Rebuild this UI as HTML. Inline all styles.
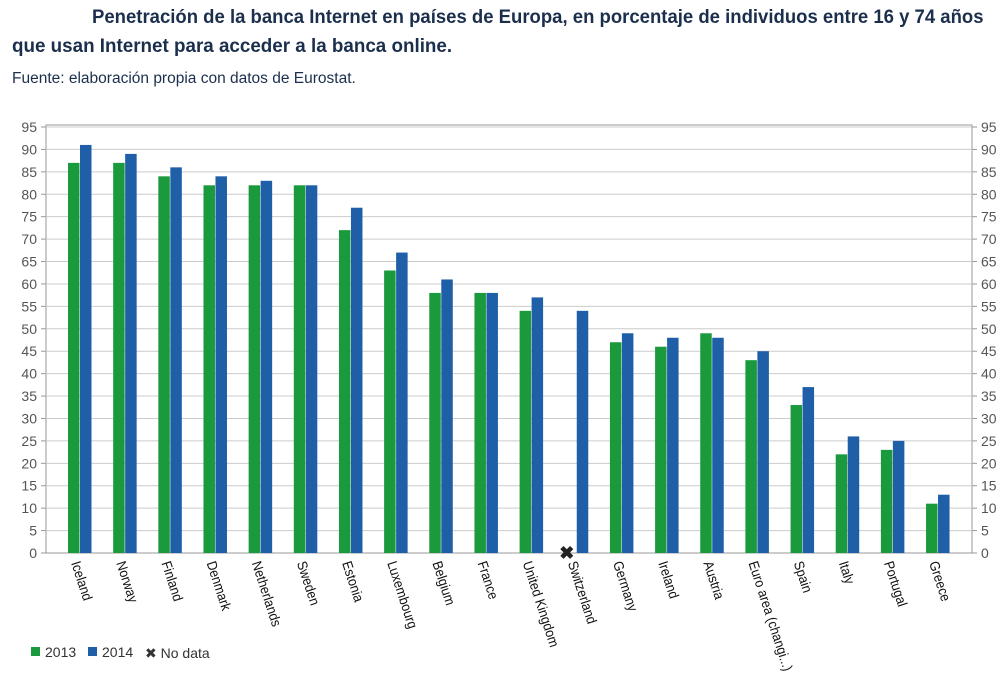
<!DOCTYPE html>
<html><head><meta charset="utf-8"><style>
body{margin:0;width:1008px;height:692px;background:#fff;overflow:hidden;font-family:"Liberation Sans",sans-serif;}
.t{position:absolute;color:#1b2f4d;font-weight:bold;font-size:19px;white-space:nowrap;transform-origin:0 0;}
.s{position:absolute;color:#1b2f4d;font-size:15.5px;left:12px;top:70px;white-space:nowrap;}
</style></head><body>
<div class="t" style="left:92px;top:7px;transform:scaleX(0.975);">Penetración de la banca Internet en países de Europa, en porcentaje de individuos entre 16 y 74 años</div>
<div class="t" style="left:12px;top:36px;transform:scaleX(0.99);">que usan Internet para acceder a la banca online.</div>
<div class="s">Fuente: elaboración propia con datos de Eurostat.</div>
<svg id="c" width="1008" height="692" style="position:absolute;left:0;top:0"></svg>
<script>
const categories=["Iceland","Norway","Finland","Denmark","Netherlands","Sweden","Estonia","Luxembourg","Belgium","France","United Kingdom","Switzerland","Germany","Ireland","Austria","Euro area (changi...)","Spain","Italy","Portugal","Greece"];
const s2013=[87,87,84,82,82,82,72,63,58,58,54,null,47,46,49,43,33,22,23,11];
const s2014=[91,89,86,84,83,82,77,67,61,58,57,54,49,48,48,45,37,26,25,13];
const ticks=[0,5,10,15,20,25,30,35,40,45,50,55,60,65,70,75,80,85,90,95];
const NS="http://www.w3.org/2000/svg",svg=document.getElementById('c');
const L=46,R=972,Y0=553,Y95=127;
const y=v=>Y0-(v/95)*(Y0-Y95);
const xc=i=>80+i*45.16;
function mk(t,a,p){const e=document.createElementNS(NS,t);for(const k in a)e.setAttribute(k,a[k]);(p||svg).appendChild(e);return e;}
mk('rect',{x:L,y:Y95-2,width:R-L,height:Y0-Y95+2,fill:'none',stroke:'#999'});
ticks.forEach(t=>{
 const g=mk('line',{x1:L,x2:R,y1:y(t),y2:y(t),stroke:'#ccc'});
 
 mk('line',{x1:L-5,x2:L,y1:y(t),y2:y(t),stroke:'#999'});
 mk('line',{x1:R,x2:R+5,y1:y(t),y2:y(t),stroke:'#999'});
 const a=mk('text',{x:37,y:y(t)+5,'text-anchor':'end','font-size':14,fill:'#555'});a.textContent=t;
 
 const b=mk('text',{x:981,y:y(t)+5,'font-size':14,fill:'#555'});b.textContent=t;
 
});
mk('line',{x1:L,x2:R,y1:Y0,y2:Y0,stroke:'#999'});
categories.forEach((c,i)=>{
 const cx=xc(i);
 if(s2013[i]!=null){const r=mk('rect',{x:cx-12,y:y(s2013[i]),width:11.5,height:Y0-y(s2013[i]),fill:'#1a9a3c'});
 }
 else{const m=mk('text',{x:cx-10,y:Y0+6,'text-anchor':'middle','font-size':18,'font-weight':'bold',fill:'#222'});m.textContent='✖';
 }
 const r2=mk('rect',{x:cx,y:y(s2014[i]),width:11.5,height:Y0-y(s2014[i]),fill:'#1f5fa8'});
 
 const tx=cx-9,ty=Y0+10;
 const l=mk('text',{x:tx,y:ty,transform:`translate(${tx} ${ty}) rotate(72) scale(0.9 1) translate(${-tx} ${-ty})`,'font-size':14,fill:'#111'});l.textContent=c;
 
});
const lg=mk('g',{});
[['#1a9a3c','2013',31],['#1f5fa8','2014',88]].forEach(([col,t,x])=>{
 const r=mk('rect',{x:x,y:647,width:9,height:9,fill:col},lg);
 
 const e=mk('text',{x:x+14,y:657,'font-size':14,fill:'#333'},lg);e.textContent=t;
 
});
const nd=mk('text',{x:145,y:658,'font-size':14,fill:'#333'},lg);nd.textContent='✖ No data';

</script>
</body></html>
